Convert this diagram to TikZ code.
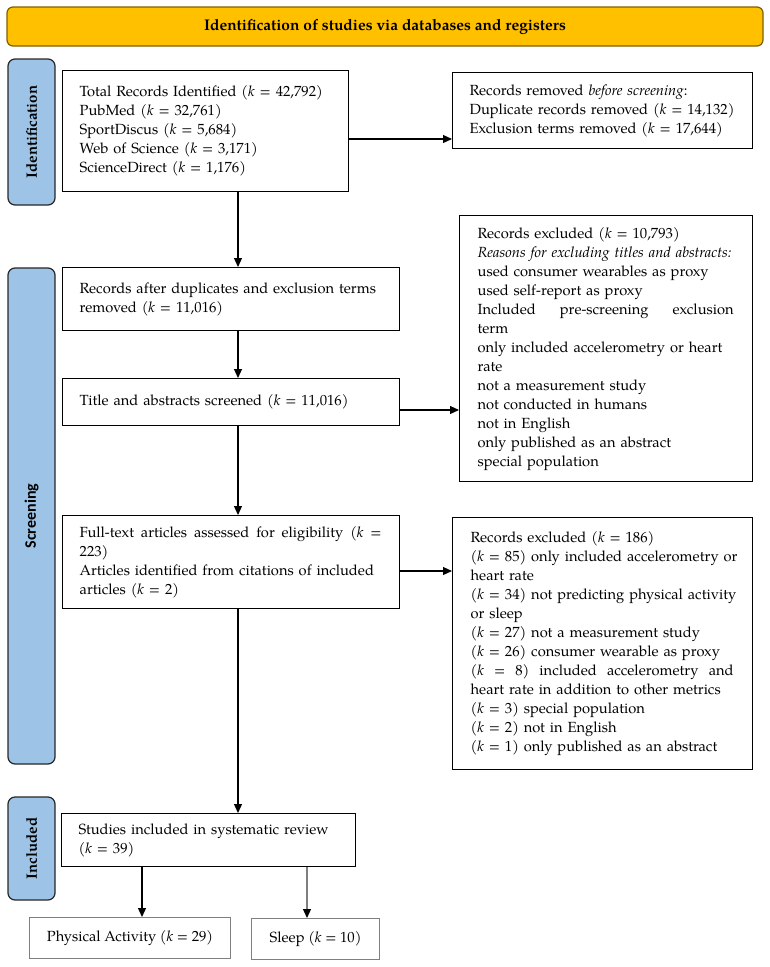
\documentclass[tikz,border=0pt]{standalone}
\usepackage{fontspec}
\setmainfont{TeX Gyre Pagella}
\newfontfamily\calibfont{Carlito}
\usetikzlibrary{arrows.meta}
\newcommand{\kv}{\textit{k}}
\newcommand{\spreadline}[2]{\leavevmode\hbox to #1{#2}}
\definecolor{bannergold}{HTML}{FFC000}
\definecolor{bannerborder}{HTML}{7F6000}
\definecolor{sideblue}{HTML}{9DC3E6}
\definecolor{lightborder}{HTML}{7F7F7F}
\begin{document}
\begin{tikzpicture}[x=1pt,y=-1pt,
  every node/.style={font=\fontsize{14.7}{19}\selectfont},
  box/.style={draw=black,line width=1.3pt,fill=white,anchor=north west,inner xsep=17pt,inner ysep=2pt,align=left},
  gbox/.style={draw=lightborder,line width=1.2pt,fill=white,anchor=north west,inner sep=2pt,align=center},
  side/.style={draw=black!85,line width=1.2pt,fill=sideblue,rounded corners=7pt,rotate=90,inner sep=0pt,font=\fontsize{15}{18}\bfseries\selectfont},
  arr/.style={line width=1.2pt,-{Triangle[length=9pt,width=8pt]}},
  garr/.style={line width=1.2pt,draw=lightborder,-{Triangle[length=9pt,width=8pt,color=black,fill=black]}}
]
\useasboundingbox (0,0) rectangle (770,967);

% banner
\node[draw=bannerborder,fill=bannergold,rounded corners=6pt,line width=1.2pt,
      minimum width=756pt,minimum height=39pt,inner sep=0pt,
      font=\fontsize{15.5}{18}\bfseries\selectfont] (title) at (385,26.5)
      {Identification of studies via databases and registers};

% side labels
\node[side,minimum width=146pt,minimum height=47pt] (idl) at (31.5,132) {Identification};
\node[side,minimum width=496pt,minimum height=47pt,font=\fontsize{16}{18}\calibfont\bfseries] (scl) at (31.5,516) {Screening};
\node[side,minimum width=103pt,minimum height=47pt] (inl) at (31.5,848.5) {Included};

% main column
\node[box,minimum width=286pt,minimum height=121pt,text width=252pt] (b1) at (62,70)
  {\mbox{Total Records Identified (\kv{} = 42,792)}\\
   \mbox{PubMed (\kv{} = 32,761)}\\
   \mbox{SportDiscus (\kv{} = 5,684)}\\
   \mbox{Web of Science (\kv{} = 3,171)}\\
   \mbox{ScienceDirect (\kv{} = 1,176)}};

\node[box,minimum width=300pt,minimum height=76pt,text width=266pt] (rm) at (452,72)
  {\mbox{Records removed \textit{before screening}:}\\
   \mbox{Duplicate records removed (\kv{} = 14,132)}\\
   \mbox{Exclusion terms removed (\kv{} = 17,644)}};

\node[box,minimum width=337pt,minimum height=63pt,text width=303pt] (b2) at (62,267)
  {\mbox{Records after duplicates and exclusion terms}\\
   \mbox{removed (\kv{} = 11,016)}};

\node[box,minimum width=337pt,minimum height=47pt,text width=303pt] (b3) at (62,378)
  {\mbox{Title and abstracts screened (\kv{} = 11,016)}};

\node[box,minimum width=293pt,minimum height=266pt,text width=257pt,inner xsep=18pt] (r2) at (459,215)
  {\mbox{Records excluded (\kv{} = 10,793)}\\
   \mbox{\itshape Reasons for excluding titles and abstracts:}\\
   \mbox{used consumer wearables as proxy}\\
   \mbox{used self-report as proxy}\\
   \spreadline{256pt}{Included\hfill pre-screening\hfill exclusion}\\
   \mbox{term}\\
   \mbox{only included accelerometry or heart}\\
   \mbox{rate}\\
   \mbox{not a measurement study}\\
   \mbox{not conducted in humans}\\
   \mbox{not in English}\\
   \mbox{only published as an abstract}\\
   \mbox{special population}};

\node[box,minimum width=337pt,minimum height=93pt,text width=303pt] (b4) at (62,515)
  {\spreadline{302pt}{Full-text\hfill articles\hfill assessed\hfill for\hfill eligibility\hfill (\kv\hfill =}\\
   \mbox{223)}\\
   \mbox{Articles identified from citations of included}\\
   \mbox{articles (\kv{} = 2)}};

\node[box,minimum width=300pt,minimum height=252pt,text width=264pt,inner xsep=18pt] (r3) at (452,517)
  {\mbox{Records excluded (\kv{} = 186)}\\
   \mbox{(\kv{} = 85) only included accelerometry or}\\
   \mbox{heart rate}\\
   \mbox{(\kv{} = 34) not predicting physical activity}\\
   \mbox{or sleep}\\
   \mbox{(\kv{} = 27) not a measurement study}\\
   \mbox{(\kv{} = 26) consumer wearable as proxy}\\
   \spreadline{263pt}{(\kv\hfill =\hfill 8)\hfill included\hfill accelerometry\hfill and}\\
   \mbox{heart rate in addition to other metrics}\\
   \mbox{(\kv{} = 3) special population}\\
   \mbox{(\kv{} = 2) not in English}\\
   \mbox{(\kv{} = 1) only published as an abstract}};

\node[box,minimum width=294pt,minimum height=53pt,text width=260pt] (b5) at (61,813)
  {\mbox{Studies included in systematic review}\\
   \mbox{(\kv{} = 39)}};

\node[gbox,minimum width=201pt,minimum height=41pt] (pa) at (29,917) {Physical Activity (\kv{} = 29)};
\node[gbox,minimum width=128pt,minimum height=41pt] (sl) at (251,918) {Sleep (\kv{} = 10)};

% connectors
\coordinate (cx) at (238,0);
\coordinate (pax) at (142,0);
\coordinate (slx) at (307,0);
\coordinate (y1) at (0,139);
\coordinate (y2) at (0,410);
\coordinate (y3) at (0,571);

\draw[arr] (b1.south -| cx) -- (b2.north -| cx);
\draw[arr] (b2.south -| cx) -- (b3.north -| cx);
\draw[arr] (b3.south -| cx) -- (b4.north -| cx);
\draw[arr] (b4.south -| cx) -- (b5.north -| cx);
\draw[arr] (b1.east |- y1) -- (rm.west |- y1);
\draw[arr] (b3.east |- y2) -- (r2.west |- y2);
\draw[arr] (b4.east |- y3) -- (r3.west |- y3);
\draw[arr] (b5.south -| pax) -- (pa.north -| pax);
\draw[garr] (b5.south -| slx) -- (sl.north -| slx);
\end{tikzpicture}
\end{document}
